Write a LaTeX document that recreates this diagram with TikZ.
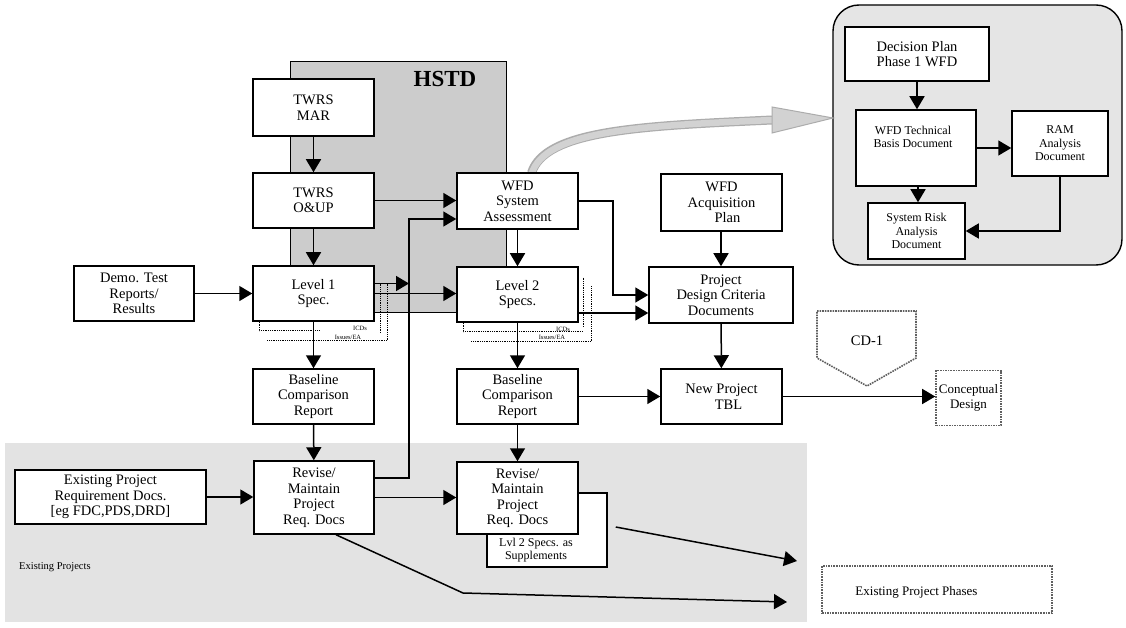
\documentclass[tikz,border=0pt]{standalone}
\usepackage{fontspec}
\setmainfont{Liberation Serif}
\usetikzlibrary{arrows.meta,calc}
\begin{document}
\begin{tikzpicture}[x=1pt,y=-1pt,
 box/.style={draw, line width=1.5pt, fill=white, align=center, inner sep=0pt, font=\fontsize{14.5}{15.5}\selectfont},
 sbox/.style={box, font=\fontsize{12}{13.5}\selectfont},
 arr/.style={line width=1.5pt, -{Triangle[length=13pt,width=15pt]}},
 dotl/.style={densely dotted, line width=0.8pt},
 tinytxt/.style={font=\fontsize{6.5}{7}\selectfont, inner sep=0pt},
 gdot/.style={draw=gray!75!black, densely dotted, line width=1.6pt},
 plain/.style={inner sep=0pt, align=center}
]
\useasboundingbox (0,0) rectangle (1126,628);
\fill[white] (0,0) rectangle (1126,628);

% background regions
\fill[gray!22] (5,443) rectangle (807,622);
\draw[fill=gray!40, line width=0.9pt] (290,61) rectangle (506,312);
\node[plain, font=\fontsize{23}{24}\selectfont\bfseries] (hstd) at (445,79) {HSTD};
\draw[fill=gray!20, line width=1.4pt, rounded corners=26pt] (833,5) rectangle (1122,265);
\node[plain, font=\fontsize{10.5}{12}\selectfont, anchor=west] (exproj) at (19,567) {Existing Projects};

% big gray arrow
\coordinate (ga) at (772,120);
\coordinate (gt) at (833,118);
\draw[line width=9pt, gray!65] ([xshift=14pt]517.5,173) .. controls (545,130) and (640,126) .. (ga);
\draw[line width=6.5pt, gray!35] ([xshift=14pt]517.5,174) .. controls (545,130) and (640,126) .. (ga);
\draw[fill=gray!35, draw=gray!65, line width=1pt] (772,107) -- (gt) -- (772,133) -- cycle;

% left / middle boxes
\node[box, minimum width=121pt, minimum height=57pt] (mar) at (313.5,107.5) {TWRS\\MAR};
\node[box, minimum width=121pt, minimum height=55pt] (oup) at (313.5,200.5) {TWRS\\O\&UP};
\node[box, minimum width=121pt, minimum height=55pt] (l1) at (313.5,293.5) {Level 1\\Spec.};
\node[box, minimum width=120pt, minimum height=55pt] (demo) at (134,293.5) {Demo. Test\\Reports/\\Results};
\node[box, minimum width=121pt, minimum height=56pt] (wsa) at (517.5,201) {WFD\\System\\Assessment};
\node[box, minimum width=121pt, minimum height=55pt] (l2) at (517.5,294.5) {Level 2\\Specs.};
\node[box, minimum width=121pt, minimum height=57pt] (wap) at (721.5,202.5) {WFD\\Acquisition\\\hspace*{12pt}Plan};
\node[box, minimum width=144pt, minimum height=56pt] (pdc) at (721,295) {Project\\Design Criteria\\Documents};
\node[box, minimum width=121pt, minimum height=55pt] (tbl) at (721.5,396.5) {New Project\\\hspace*{14pt}TBL};
\node[box, minimum width=121pt, minimum height=55pt] (bl1) at (313.5,396.5) {Baseline\\Comparison\\Report};
\node[box, minimum width=121pt, minimum height=55pt] (bl2) at (517.5,396.5) {Baseline\\Comparison\\Report};
\node[box, minimum width=191pt, minimum height=54pt] (epr) at (110.5,497) {Existing Project\\Requirement Docs.\\{[}eg FDC,PDS,DRD{]}};
\node[box, minimum width=120pt, minimum height=73pt] (rv1) at (314,497.5) {Revise/\\Maintain\\Project\\Req. Docs};
\node[box, minimum width=120pt, minimum height=74pt] (sup) at (547,530) {};
\node[plain, font=\fontsize{12}{13.5}\selectfont] (supt) at (536,550) {Lvl 2 Specs. as\\Supplements};
\node[box, minimum width=121pt, minimum height=72pt] (rv2) at (517.5,498) {Revise/\\Maintain\\Project\\Req. Docs};

% right region boxes
\node[box, minimum width=144pt, minimum height=54pt] (dp) at (917,54) {Decision Plan\\Phase 1 WFD};
\node[sbox, minimum width=120pt, minimum height=76pt] (tb) at (916,148) {};
\node[plain, font=\fontsize{12}{13.5}\selectfont] (tbt) at (913,137) {WFD Technical\\Basis Document};
\node[sbox, minimum width=96pt, minimum height=65pt] (ram) at (1060,143.5) {RAM\\Analysis\\Document};
\node[sbox, minimum width=97pt, minimum height=56pt] (srk) at (916.5,231) {System Risk\\Analysis\\Document};

% CD-1 and dotted boxes
\draw[gdot] (817,311) -- (916,311) -- (916,358) -- (867,386) -- (817,358) -- cycle;
\node[plain, font=\fontsize{14.5}{15}\selectfont] (cd1) at (867,341) {CD-1};
\node[draw=gray!75!black, densely dotted, line width=1.6pt, fill=white, minimum width=65pt, minimum height=55pt, align=center, inner sep=0pt, font=\fontsize{13}{14.5}\selectfont] (cd) at (968.5,398) {Conceptual\\Design};
\node[draw=gray!75!black, densely dotted, line width=1.6pt, fill=white, minimum width=230pt, minimum height=47pt, inner sep=0pt] (epp) at (937,589.5) {};
\node[plain, font=\fontsize{13}{14}\selectfont] (eppt) at (916.5,592) {Existing Project Phases};

% connectors
\coordinate (v1) at (409,219);
\coordinate (v2) at (409,478);
\coordinate (c1) at (613,295);
\coordinate (c2) at (463,593);
\coordinate (c3) at (787,602);
\coordinate (c4) at (797,561);

\draw[arr] (mar) -- (oup);
\draw[arr] (oup) -- (l1);
\draw[arr] (oup.east) -- (oup.east -| wsa.west);
\draw[arr] (rv1.east |- v2) -- (v2) -- (v1) -- (v1 -| wsa.west);
\draw[arr] (demo) -- (l1);
\draw[arr] ([yshift=10pt]l1.east) -- ([yshift=10pt]l1.east -| v1);
\draw[arr] (l1.east) -- (l1.east -| l2.west);
\draw[arr] (l1) -- (bl1);
\draw[arr] (bl1) -- (rv1);
\draw[arr] (epr.east) -- (epr.east -| rv1.west);
\draw[arr] (rv1.east) -- (rv1.east -| rv2.west);
\draw[arr] (wsa) -- (l2);
\draw[arr] (l2) -- (bl2);
\draw[arr] (bl2) -- (rv2);
\draw[arr] (wsa.east) -| (c1) -- (c1 -| pdc.west);
\draw[arr] ([yshift=-18.5pt]l2.east) -- ([yshift=-18.5pt]l2.east -| pdc.west);
\draw[arr] (wap.south -| pdc.north) -- (pdc.north);
\draw[arr] (pdc) -- (tbl);
\draw[arr] (bl2.east) -- (tbl.west);
\draw[arr] (tbl.east) -- (tbl.east -| cd.west);
\draw[arr] ([xshift=22pt]rv1.south) -- (c2) -- (c3);
\draw[arr] ([xshift=8pt,yshift=3pt]sup.east) -- (c4);

\draw[arr] (dp.south) -- (dp.south |- tb.north);
\draw[arr] (tb.east) -- (tb.east -| ram.west);
\draw[arr] ([xshift=2pt]tb.south) -- ([xshift=2pt]tb.south |- srk.north);
\draw[arr] (ram.south) |- (srk.east);

% ICD dotted brackets
\draw[dotl] ([xshift=7pt]l1.south west) -- ++(0,9) -- ++(60,0);
\draw[dotl] ([xshift=15pt,yshift=-19pt]l1.south west) -- ++(120,0) -- ++(0,-57);
\draw[dotl] ([xshift=6pt,yshift=10pt]l1.east) -- ++(0,49);
\node[tinytxt] (icd1) at (360,328) {ICDs};
\node[tinytxt] (iss1) at (348,337) {Issues/EA};

\draw[dotl] ([xshift=7pt]l2.south west) -- ++(0,9) -- ++(120,0);
\draw[dotl] ([xshift=15pt,yshift=-19pt]l2.south west) -- ++(120,0) -- ++(0,-56);
\draw[dotl] ([xshift=5pt,yshift=17pt]l2.east) -- ++(0,49);
\node[tinytxt] (icd2) at (563,329) {ICDs};
\node[tinytxt] (iss2) at (552,337) {Issues/EA};
\end{tikzpicture}
\end{document}
